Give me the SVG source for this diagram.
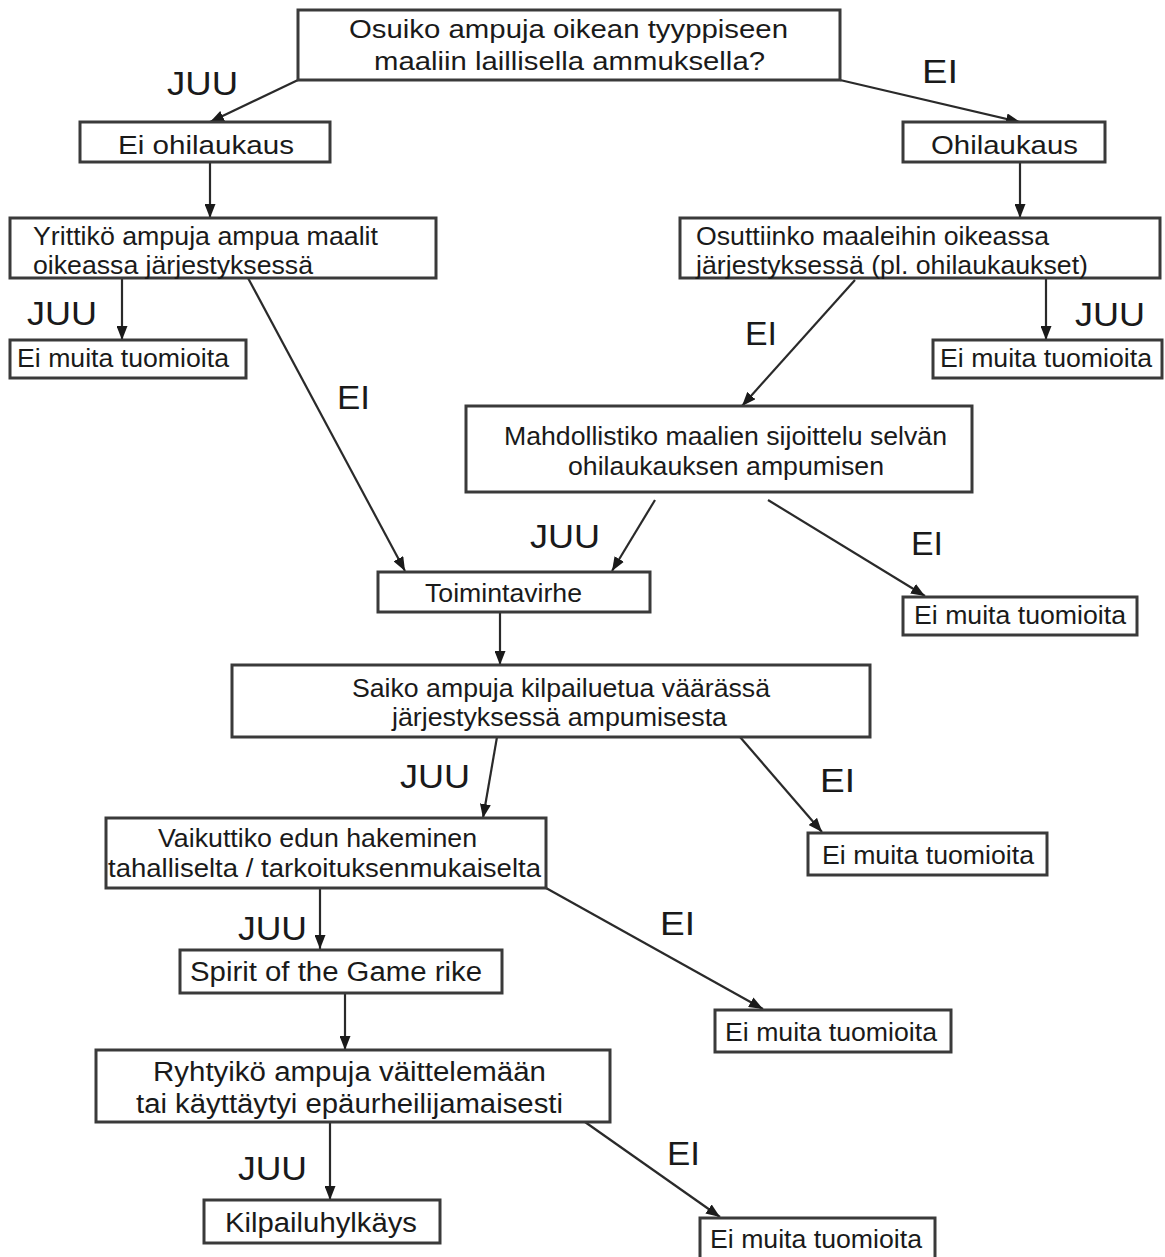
<svg xmlns="http://www.w3.org/2000/svg" width="1165" height="1257" viewBox="0 0 1165 1257">
<defs>
<marker id="ah" viewBox="0 0 14 11" refX="14" refY="5.5" markerWidth="14" markerHeight="11" markerUnits="userSpaceOnUse" orient="auto">
<path d="M0,0 L14,5.5 L0,11 Z" fill="#1a1a1a"/>
</marker>
<style>
.box{fill:#fff;stroke:#3a3a3a;stroke-width:3}
.t{font-family:"Liberation Sans",Arial,sans-serif;font-size:26px;fill:#1a1a1a}
.lab{font-family:"Liberation Sans",Arial,sans-serif;font-size:34px;fill:#1a1a1a}
.e{fill:none;stroke:#2a2a2a;stroke-width:2.2;marker-end:url(#ah)}
</style>
</defs>
<rect width="1165" height="1257" fill="#fff"/>

<g id="connectors">
<line class="e" x1="298" y1="80" x2="210" y2="122"/>
<line class="e" x1="840" y1="80" x2="1020" y2="122"/>
<line class="e" x1="210" y1="162" x2="210" y2="218"/>
<line class="e" x1="1020" y1="162" x2="1020" y2="218"/>
<line class="e" x1="122" y1="278" x2="122" y2="340"/>
<line class="e" x1="248" y1="278" x2="405" y2="571"/>
<line class="e" x1="1046" y1="278" x2="1046" y2="340"/>
<line class="e" x1="855" y1="280" x2="742" y2="406"/>
<line class="e" x1="655" y1="500" x2="612" y2="571"/>
<line class="e" x1="768" y1="500" x2="925" y2="596"/>
<line class="e" x1="500" y1="612" x2="500" y2="665"/>
<line class="e" x1="497" y1="737" x2="483" y2="818"/>
<line class="e" x1="740" y1="737" x2="822" y2="832"/>
<line class="e" x1="320" y1="888" x2="320" y2="949"/>
<line class="e" x1="546" y1="888" x2="763" y2="1009"/>
<line class="e" x1="345" y1="993" x2="345" y2="1050"/>
<line class="e" x1="330" y1="1122" x2="330" y2="1200"/>
<line class="e" x1="585" y1="1122" x2="720" y2="1217"/>
<text class="lab" x="167" y="95" textLength="71" lengthAdjust="spacingAndGlyphs">JUU</text>
<text class="lab" x="922" y="83" textLength="36" lengthAdjust="spacingAndGlyphs">EI</text>
<text class="lab" x="27" y="325" textLength="70" lengthAdjust="spacingAndGlyphs">JUU</text>
<text class="lab" x="337" y="409" textLength="33" lengthAdjust="spacingAndGlyphs">EI</text>
<text class="lab" x="1075" y="326" textLength="70" lengthAdjust="spacingAndGlyphs">JUU</text>
<text class="lab" x="745" y="345" textLength="32" lengthAdjust="spacingAndGlyphs">EI</text>
<text class="lab" x="530" y="548" textLength="70" lengthAdjust="spacingAndGlyphs">JUU</text>
<text class="lab" x="911" y="555" textLength="32" lengthAdjust="spacingAndGlyphs">EI</text>
<text class="lab" x="400" y="788" textLength="70" lengthAdjust="spacingAndGlyphs">JUU</text>
<text class="lab" x="820" y="792" textLength="35" lengthAdjust="spacingAndGlyphs">EI</text>
<text class="lab" x="238" y="940" textLength="69" lengthAdjust="spacingAndGlyphs">JUU</text>
<text class="lab" x="660" y="935" textLength="35" lengthAdjust="spacingAndGlyphs">EI</text>
<text class="lab" x="238" y="1180" textLength="69" lengthAdjust="spacingAndGlyphs">JUU</text>
<text class="lab" x="667" y="1165" textLength="33" lengthAdjust="spacingAndGlyphs">EI</text>
</g>

<g id="n1">
<rect class="box" x="298" y="10" width="542" height="70"/>
<text class="t" x="349" y="38" textLength="439" lengthAdjust="spacingAndGlyphs">Osuiko ampuja oikean tyyppiseen</text>
<text class="t" x="374" y="70" textLength="391" lengthAdjust="spacingAndGlyphs">maaliin laillisella ammuksella?</text>
</g>
<g id="n2">
<rect class="box" x="80" y="122" width="250" height="40"/>
<text class="t" x="118" y="154" textLength="176" lengthAdjust="spacingAndGlyphs">Ei ohilaukaus</text>
</g>
<g id="n3">
<rect class="box" x="903" y="122" width="202" height="40"/>
<text class="t" x="931" y="154" textLength="147" lengthAdjust="spacingAndGlyphs">Ohilaukaus</text>
</g>
<g id="n4">
<rect class="box" x="10" y="218" width="426" height="60"/>
<text class="t" x="33" y="245" textLength="345" lengthAdjust="spacingAndGlyphs">Yrittikö ampuja ampua maalit</text>
<text class="t" x="33" y="274" textLength="280" lengthAdjust="spacingAndGlyphs">oikeassa järjestyksessä</text>
</g>
<g id="n5">
<rect class="box" x="680" y="218" width="480" height="60"/>
<text class="t" x="696" y="245" textLength="353" lengthAdjust="spacingAndGlyphs">Osuttiinko maaleihin oikeassa</text>
<text class="t" x="696" y="274" textLength="392" lengthAdjust="spacingAndGlyphs">järjestyksessä (pl. ohilaukaukset)</text>
</g>
<g id="n6">
<rect class="box" x="10" y="340" width="236" height="38"/>
<text class="t" x="17" y="367" textLength="212" lengthAdjust="spacingAndGlyphs">Ei muita tuomioita</text>
</g>
<g id="n7">
<rect class="box" x="933" y="340" width="229" height="38"/>
<text class="t" x="940" y="367" textLength="212" lengthAdjust="spacingAndGlyphs">Ei muita tuomioita</text>
</g>
<g id="n8">
<rect class="box" x="466" y="406" width="506" height="86"/>
<text class="t" x="504" y="445" textLength="443" lengthAdjust="spacingAndGlyphs">Mahdollistiko maalien sijoittelu selvän</text>
<text class="t" x="568" y="475" textLength="316" lengthAdjust="spacingAndGlyphs">ohilaukauksen ampumisen</text>
</g>
<g id="n9">
<rect class="box" x="378" y="572" width="272" height="40"/>
<text class="t" x="425" y="602" textLength="157" lengthAdjust="spacingAndGlyphs">Toimintavirhe</text>
</g>
<g id="n10">
<rect class="box" x="903" y="597" width="234" height="38"/>
<text class="t" x="914" y="624" textLength="212" lengthAdjust="spacingAndGlyphs">Ei muita tuomioita</text>
</g>
<g id="n11">
<rect class="box" x="232" y="665" width="638" height="72"/>
<text class="t" x="352" y="697" textLength="418" lengthAdjust="spacingAndGlyphs">Saiko ampuja kilpailuetua väärässä</text>
<text class="t" x="392" y="726" textLength="335" lengthAdjust="spacingAndGlyphs">järjestyksessä ampumisesta</text>
</g>
<g id="n12">
<rect class="box" x="106" y="818" width="440" height="70"/>
<text class="t" x="158" y="847" textLength="319" lengthAdjust="spacingAndGlyphs">Vaikuttiko edun hakeminen</text>
<text class="t" x="108" y="877" textLength="433" lengthAdjust="spacingAndGlyphs">tahalliselta / tarkoituksenmukaiselta</text>
</g>
<g id="n13">
<rect class="box" x="808" y="833" width="239" height="42"/>
<text class="t" x="822" y="864" textLength="212" lengthAdjust="spacingAndGlyphs">Ei muita tuomioita</text>
</g>
<g id="n14">
<rect class="box" x="180" y="950" width="322" height="43"/>
<text class="t" x="190" y="981" style="font-size:27px" textLength="292" lengthAdjust="spacingAndGlyphs">Spirit of the Game rike</text>
</g>
<g id="n15">
<rect class="box" x="715" y="1010" width="236" height="42"/>
<text class="t" x="725" y="1041" textLength="212" lengthAdjust="spacingAndGlyphs">Ei muita tuomioita</text>
</g>
<g id="n16">
<rect class="box" x="96" y="1050" width="514" height="72"/>
<text class="t" x="153" y="1081" style="font-size:27px" textLength="393" lengthAdjust="spacingAndGlyphs">Ryhtyikö ampuja väittelemään</text>
<text class="t" x="136" y="1113" style="font-size:27px" textLength="427" lengthAdjust="spacingAndGlyphs">tai käyttäytyi epäurheilijamaisesti</text>
</g>
<g id="n17">
<rect class="box" x="204" y="1200" width="236" height="43"/>
<text class="t" x="225" y="1232" style="font-size:27px" textLength="192" lengthAdjust="spacingAndGlyphs">Kilpailuhylkäys</text>
</g>
<g id="n18">
<rect class="box" x="700" y="1218" width="235" height="42"/>
<text class="t" x="710" y="1248" textLength="212" lengthAdjust="spacingAndGlyphs">Ei muita tuomioita</text>
</g>
</svg>
